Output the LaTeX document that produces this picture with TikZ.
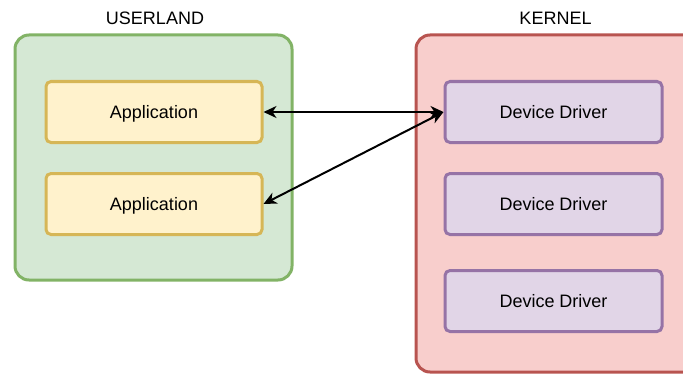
\documentclass[tikz,border=0pt]{standalone}
\usepackage{fontspec}
\setmainfont{Liberation Sans}
\usetikzlibrary{arrows.meta}
\definecolor{gfill}{HTML}{D5E8D4}
\definecolor{gdraw}{HTML}{82B366}
\definecolor{rfill}{HTML}{F8CECC}
\definecolor{rdraw}{HTML}{B85450}
\definecolor{yfill}{HTML}{FFF2CC}
\definecolor{ydraw}{HTML}{D6B656}
\definecolor{pfill}{HTML}{E1D5E7}
\definecolor{pdraw}{HTML}{9673A6}
\begin{document}
\begin{tikzpicture}[x=0.5pt,y=-0.5pt,
  every node/.style={font=\fontsize{9}{11}\selectfont,text depth=0pt},
  container/.style={line width=1.5pt,rounded corners=7pt},
  appbox/.style={draw=ydraw,fill=yfill,line width=1.5pt,rounded corners=2.5pt,minimum width=108pt,minimum height=30.5pt,inner sep=0pt},
  drvbox/.style={draw=pdraw,fill=pfill,line width=1.5pt,rounded corners=2.5pt,minimum width=108.5pt,minimum height=30.5pt,inner sep=0pt},
  lbl/.style={inner sep=0pt},
  conn/.style={line width=1pt,{Stealth[length=6.5pt,width=6pt,inset=2pt]}-{Stealth[length=6.5pt,width=6pt,inset=2pt]}}
]
\useasboundingbox (0,0) rectangle (683,374);
\clip (0,0) rectangle (683,374);
\draw[container,draw=gdraw,fill=gfill] (15,35) rectangle (292,280);
\draw[container,draw=rdraw,fill=rfill] (416,35) rectangle (700,372);
\node[lbl] (ul) at (155,18) {USERLAND};
\node[lbl] (kl) at (555.5,18) {KERNEL};
\node[appbox] (a1) at (154,112) {Application};
\node[appbox] (a2) at (154,204) {Application};
\node[drvbox] (d1) at (553.5,112) {Device Driver};
\node[drvbox] (d2) at (553.5,204) {Device Driver};
\node[drvbox] (d3) at (553.5,301) {Device Driver};
\draw[conn] (a1.east) -- (d1.west);
\draw[conn] (a2.east) -- (d1.west);
\end{tikzpicture}
\end{document}
